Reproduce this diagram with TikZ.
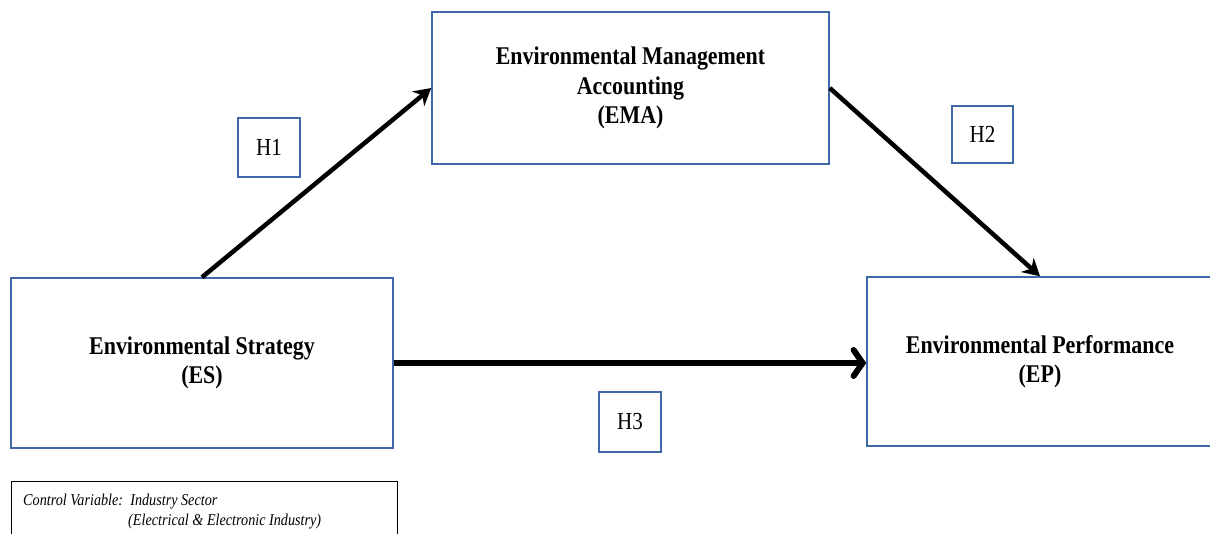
\documentclass[tikz,border=0pt]{standalone}
\usepackage{fontspec}
\setmainfont{Liberation Serif}[FakeStretch=0.86]
\usetikzlibrary{arrows.meta}
\definecolor{boxblue}{RGB}{65,105,170}
\begin{document}
\begin{tikzpicture}[x=1pt,y=-1pt,
  mainbox/.style={draw=boxblue,line width=1.5pt,inner sep=0pt,align=center,
    font=\fontsize{25.5}{29.5}\selectfont\bfseries},
  hbox/.style={draw=boxblue,line width=1.5pt,inner sep=0pt,align=center,
    font=\fontsize{24.5}{29}\selectfont},
  ctrltext/.style={anchor=base west,inner sep=0pt,font=\fontsize{16.5}{20}\selectfont\itshape},
  thinarrow/.style={line width=4.5pt,-{Stealth[length=17pt,width=19pt]}},
  thickarrow/.style={line width=6pt,-{Straight Barb[length=9pt,width=26pt,line cap=round]}}
]
\useasboundingbox[fill=white] (0,0) rectangle (1210,533);
\clip (0,0) rectangle (1210,533);
\node[mainbox,minimum width=397pt,minimum height=152pt] (ema) at (630.5,88)
  {\rule{0pt}{6pt}Environmental Management\\Accounting\\(EMA)};
\node[mainbox,minimum width=382pt,minimum height=170pt] (es) at (202,363)
  {Environmental Strategy\\(ES)};
\node[mainbox,minimum width=346pt,minimum height=169pt] (ep) at (1040,361.5)
  {Environmental Performance\\(EP)};
\node[hbox,minimum width=62pt,minimum height=59pt] (h1) at (269,147.5) {H1};
\node[hbox,minimum width=61pt,minimum height=57pt] (h2) at (982.5,134.5) {H2};
\node[hbox,minimum width=62pt,minimum height=60pt] (h3) at (630,422) {H3};
\node[draw=black,line width=1pt,inner sep=0pt,minimum width=386pt,minimum height=60pt] (ctrl) at (204,511) {};
\node[ctrltext] (ctrl1) at (23,505) {Control Variable:\ \ Industry Sector};
\node[ctrltext] (ctrl2) at (128,525) {(Electrical \& Electronic Industry)};
\draw[thinarrow] (es.north) -- (ema.west);
\draw[thinarrow] (ema.east) -- (ep.north);
\draw[thickarrow] (es.east) -- (es.east -| ep.west);
\end{tikzpicture}
\end{document}
